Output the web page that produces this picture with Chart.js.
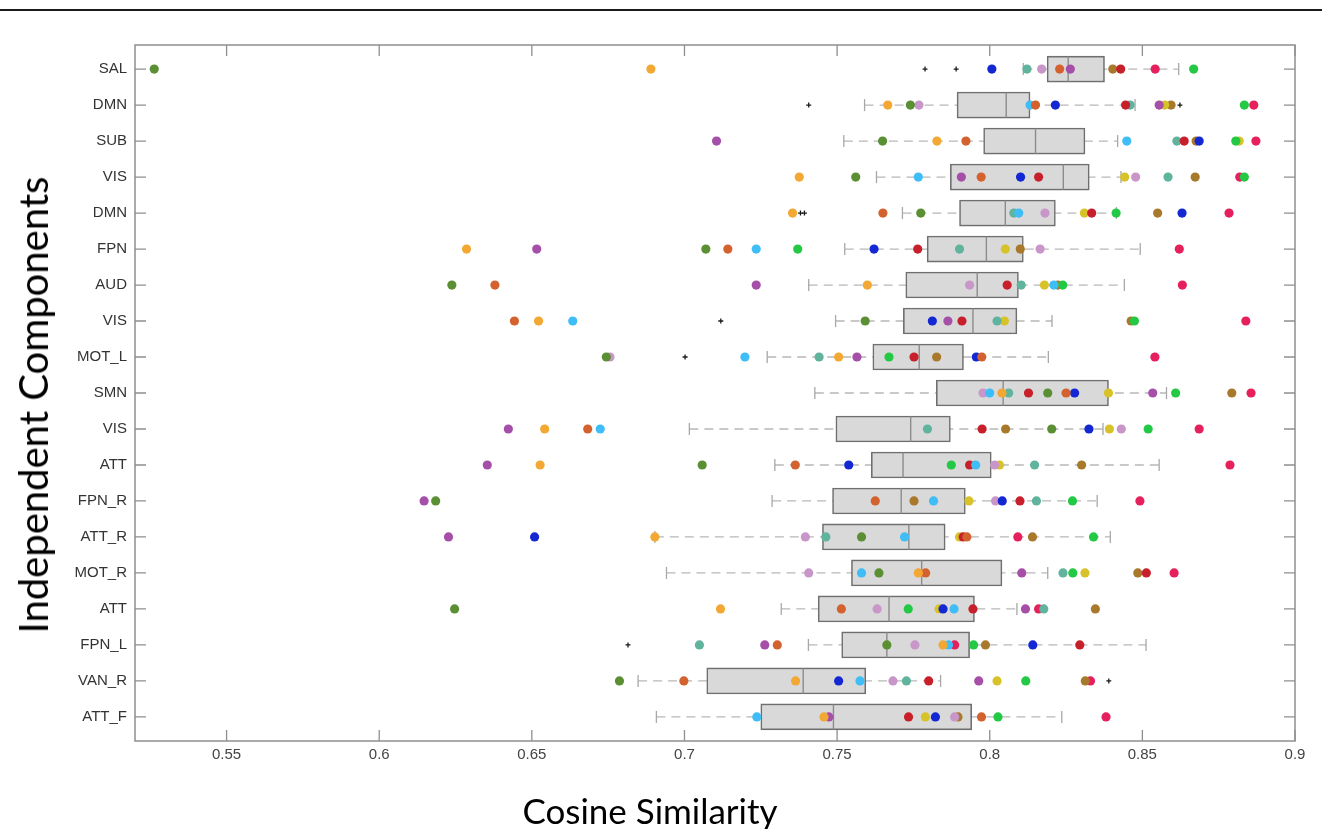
<!DOCTYPE html>
<html lang="en">
<head>
    <meta charset="UTF-8">
    <title>Cosine Similarity per Component</title>
    <script src="https://cdn.jsdelivr.net/npm/chart.js"></script>
    <style>
        body {
            margin: 0;
            width: 1322px;
            height: 829px;
            overflow: hidden;
            position: relative;
            background: #fff;
        }
        #chart { position: absolute; left: 0; top: 0; }
        .topline {
            position: absolute;
            left: 0; top: 9px;
            width: 1322px; height: 2px;
            background: #1a1a1a;
        }
        .axis-title {
            position: absolute;
            font-family: Lato, "Open Sans", sans-serif;
            color: #000;
            white-space: nowrap;
        }
        .ytitle {
            left: 33px; top: 405px;
            font-size: 40px;
            transform: translate(-50%, -50%) rotate(-90deg);
        }
        .xtitle {
            left: 650px; top: 810px;
            font-size: 35px;
            transform: translate(-50%, -50%);
        }
    </style>
</head>
<body>
    <div class="topline"></div>
    <canvas id="chart" width="1322" height="829"></canvas>
    <div class="axis-title ytitle">Independent Components</div>
    <div class="axis-title xtitle">Cosine Similarity</div>
    <script>
        const categories = ["SAL", "DMN", "SUB", "VIS", "DMN", "FPN", "AUD", "VIS", "MOT_L", "SMN",
            "VIS", "ATT", "FPN_R", "ATT_R", "MOT_R", "ATT", "FPN_L", "VAN_R", "ATT_F"];
        const xTicks = [0.55, 0.6, 0.65, 0.7, 0.75, 0.8, 0.85, 0.9];

        // box statistics, one entry per component
        const q1 = [0.8188, 0.7893, 0.7980, 0.7871, 0.7901, 0.7795, 0.7725, 0.7717, 0.7617, 0.7825,
            0.7496, 0.7612, 0.7485, 0.7452, 0.7547, 0.7438, 0.7515, 0.7073, 0.7250];
        const median = [0.8257, 0.8054, 0.8150, 0.8241, 0.8051, 0.7989, 0.7959, 0.7945, 0.7769, 0.8044,
            0.7741, 0.7716, 0.7710, 0.7735, 0.7777, 0.7670, 0.7663, 0.7389, 0.7488];
        const q3 = [0.8376, 0.8132, 0.8312, 0.8326, 0.8215, 0.8110, 0.8094, 0.8089, 0.7914, 0.8389,
            0.7871, 0.8005, 0.7920, 0.7854, 0.8040, 0.7950, 0.7934, 0.7594, 0.7941];
        const whiskerLow = [0.8110, 0.7590, 0.7522, 0.7629, 0.7714, 0.7525, 0.7407, 0.7495, 0.7271, 0.7427,
            0.7016, 0.7296, 0.7287, 0.6903, 0.6941, 0.7317, 0.7406, 0.6848, 0.6908];
        const whiskerHigh = [0.8619, 0.8476, 0.8419, 0.8430, 0.8415, 0.8493, 0.8441, 0.8204, 0.8192, 0.8579,
            0.8371, 0.8555, 0.8352, 0.8395, 0.8190, 0.8089, 0.8512, 0.7839, 0.8236];

        // outliers (+), row index and value
        const outlierRow = [0, 0, 1, 1, 4, 4, 7, 8, 16, 17];
        const outlierValue = [0.7788, 0.7890, 0.7407, 0.8623, 0.7380, 0.7393, 0.7119, 0.7002, 0.6815, 0.8390];

        // one value per component for each subject (null = hidden behind another dot)
        const olive = [0.5263, 0.7740, 0.7649, 0.7561, 0.7774, 0.7070, 0.6238, 0.7592, 0.6744, 0.8190,
            0.8203, 0.7058, 0.6185, 0.7580, 0.7637, 0.6247, 0.7663, 0.6787, null];
        const orange = [0.6890, 0.7666, 0.7827, 0.7376, 0.7354, 0.6286, 0.7599, 0.6522, 0.7505, 0.8040,
            0.6542, 0.6527, null, 0.6903, 0.7766, 0.7118, 0.7847, 0.7364, 0.7457];
        const purple = [0.8264, 0.8555, 0.7105, 0.7907, null, 0.6516, 0.7235, 0.7863, 0.7565, 0.8534,
            0.6423, 0.6354, 0.6147, 0.6227, 0.8105, 0.8117, 0.7263, 0.7964, 0.7473];
        const vermilion = [0.8229, 0.8150, 0.7922, 0.7972, 0.7650, 0.7142, 0.6379, 0.6443, 0.7974, 0.8250,
            0.6683, 0.7363, 0.7625, 0.7925, 0.7790, 0.7514, 0.7304, 0.6998, 0.7973];
        const skyBlue = [null, 0.8132, 0.8449, 0.7766, 0.8095, 0.7235, 0.8210, 0.6634, 0.7198, 0.8000,
            0.6724, 0.7954, 0.7816, 0.7721, 0.7580, 0.7883, 0.7865, 0.7575, 0.7237];
        const green = [0.8668, 0.8834, 0.8806, 0.8834, 0.8414, 0.7371, 0.8239, 0.8474, 0.7670, 0.8609,
            0.8519, 0.7874, 0.8271, 0.8340, 0.8272, 0.7733, 0.7947, 0.8118, 0.8027];
        const blue = [0.8007, 0.8215, 0.8686, 0.8101, 0.8630, 0.7621, null, 0.7812, 0.7956, 0.8278,
            0.8325, 0.7538, 0.8041, 0.6509, null, 0.7847, 0.8141, 0.7505, 0.7822];
        const red = [0.8429, 0.8445, 0.8637, 0.8160, 0.8334, 0.7764, 0.8057, 0.7909, 0.7752, 0.8127,
            0.7975, 0.7934, 0.8099, 0.7913, 0.8513, 0.7945, 0.8295, 0.7800, 0.7734];
        const teal = [0.8122, 0.8460, 0.8613, 0.8584, 0.8079, 0.7901, 0.8103, 0.8024, 0.7441, 0.8062,
            0.7796, 0.8147, 0.8153, 0.7463, 0.8240, 0.8177, 0.7049, 0.7727, null];
        const lilac = [0.8170, 0.7768, null, 0.8478, 0.8181, 0.8165, 0.7934, null, 0.6756, 0.7978,
            0.8431, 0.8016, 0.8019, 0.7396, 0.7407, 0.7631, 0.7755, 0.7683, 0.7885];
        const yellow = [null, 0.8573, 0.8817, 0.8442, 0.8310, 0.8051, 0.8179, 0.8048, null, 0.8389,
            0.8392, 0.8032, 0.7932, 0.7901, 0.8312, 0.7834, null, 0.8024, 0.7789];
        const brown = [0.8403, 0.8594, 0.8676, 0.8673, 0.8550, 0.8100, 0.8223, 0.8463, 0.7826, 0.8793,
            0.8052, 0.8301, 0.7752, 0.8140, 0.8485, 0.8346, 0.7986, 0.8313, 0.7896];
        const crimson = [0.8542, 0.8865, 0.8872, 0.8819, 0.8784, 0.8621, 0.8631, 0.8839, 0.8541, 0.8856,
            0.8686, 0.8787, 0.8492, 0.8092, 0.8604, 0.8160, 0.7885, 0.8330, 0.8381];

        const subjects = [olive, orange, purple, vermilion, skyBlue, green, blue, red, teal, lilac, yellow, brown, crimson];
        const subjectColors = ["#5b8f33", "#f2a832", "#a54fa9", "#d4622e", "#3fbdf6", "#23c845", "#1327d2",
            "#c7202b", "#60b39d", "#c896c9", "#d8c22a", "#a9792b", "#e5205c"];

        const datasets = [];

        // dashed whiskers (the box is drawn over the middle part)
        categories.forEach((c, i) => {
            datasets.push({
                type: "line",
                data: [{x: whiskerLow[i], y: i}, {x: whiskerHigh[i], y: i}],
                borderColor: "#b8b8b8",
                borderWidth: 1.3,
                borderDash: [9, 6],
                pointRadius: 0,
                order: 6
            });
        });

        // whisker caps
        datasets.push({
            type: "scatter",
            data: categories.flatMap((c, i) => [{x: whiskerLow[i], y: i}, {x: whiskerHigh[i], y: i}]),
            pointStyle: "line",
            pointRotation: 90,
            pointRadius: 6,
            pointBorderColor: "#a8a8a8",
            pointBorderWidth: 1.3,
            order: 5
        });

        // boxes
        datasets.push({
            type: "bar",
            indexAxis: "y",
            data: categories.map((c, i) => ({y: i, x: [q1[i], q3[i]]})),
            backgroundColor: "#d9d9d9",
            borderColor: "#6f6f6f",
            borderWidth: 1.6,
            borderSkipped: false,
            barThickness: 26,
            order: 4
        });

        // medians
        datasets.push({
            type: "scatter",
            data: categories.map((c, i) => ({x: median[i], y: i})),
            pointStyle: "line",
            pointRotation: 90,
            pointRadius: 12.5,
            pointBorderColor: "#8c8c8c",
            pointBorderWidth: 1.4,
            order: 3
        });

        // outliers
        datasets.push({
            type: "scatter",
            data: outlierRow.map((r, k) => ({x: outlierValue[k], y: r})),
            pointStyle: "cross",
            pointRadius: 2.5,
            pointBorderColor: "#1a1a1a",
            pointBorderWidth: 1.3,
            order: 2
        });

        // subject dots
        subjects.forEach((vals, s) => {
            datasets.push({
                type: "scatter",
                data: vals.map((v, i) => ({x: v, y: i})).filter(p => p.x !== null),
                pointStyle: "circle",
                pointRadius: 4.6,
                pointBorderWidth: 0,
                pointBackgroundColor: subjectColors[s],
                order: 1
            });
        });

        // MATLAB-like frame with inward ticks
        const framePlugin = {
            id: "frame",
            beforeDatasetsDraw(chart) {
                const {ctx, chartArea: a, scales} = chart;
                ctx.save();
                ctx.strokeStyle = "#8f8f8f";
                ctx.lineWidth = 1.5;
                ctx.strokeRect(a.left, a.top, a.right - a.left, a.bottom - a.top);
                ctx.lineWidth = 1.3;
                ctx.beginPath();
                scales.y.ticks.forEach(t => {
                    const y = scales.y.getPixelForValue(t.value);
                    ctx.moveTo(a.left, y); ctx.lineTo(a.left + 11, y);
                    ctx.moveTo(a.right, y); ctx.lineTo(a.right - 11, y);
                });
                scales.x.ticks.forEach(t => {
                    const x = scales.x.getPixelForValue(t.value);
                    ctx.moveTo(x, a.top); ctx.lineTo(x, a.top + 11);
                    ctx.moveTo(x, a.bottom); ctx.lineTo(x, a.bottom - 11);
                });
                ctx.stroke();
                ctx.restore();
            }
        };

        new Chart(document.getElementById("chart"), {
            type: "scatter",
            data: {datasets: datasets},
            options: {
                responsive: false,
                animation: false,
                events: [],
                layout: {padding: {top: 45, right: 27, left: 0, bottom: 0}},
                plugins: {legend: {display: false}, tooltip: {enabled: false}},
                scales: {
                    x: {
                        type: "linear",
                        min: 0.52,
                        max: 0.9,
                        offset: false,
                        afterBuildTicks: s => { s.ticks = xTicks.map(v => ({value: v})); },
                        afterFit: s => { s.height = 88; },
                        grid: {display: false, drawTicks: false},
                        border: {display: false},
                        ticks: {
                            autoSkip: false,
                            maxRotation: 0,
                            padding: 5,
                            color: "#444",
                            font: {family: "'Liberation Sans', Arial, sans-serif", size: 15},
                            callback: v => String(v)
                        }
                    },
                    y: {
                        type: "linear",
                        reverse: true,
                        offset: false,
                        min: -0.67,
                        max: 18.67,
                        afterBuildTicks: s => { s.ticks = categories.map((c, i) => ({value: i})); },
                        afterFit: s => { s.width = 135; },
                        grid: {display: false, drawTicks: false, offset: false},
                        border: {display: false},
                        ticks: {
                            autoSkip: false,
                            padding: 8,
                            color: "#333",
                            font: {family: "'Liberation Sans', Arial, sans-serif", size: 15},
                            callback: v => categories[v]
                        }
                    }
                }
            },
            plugins: [framePlugin]
        });
    </script>
</body>
</html>
